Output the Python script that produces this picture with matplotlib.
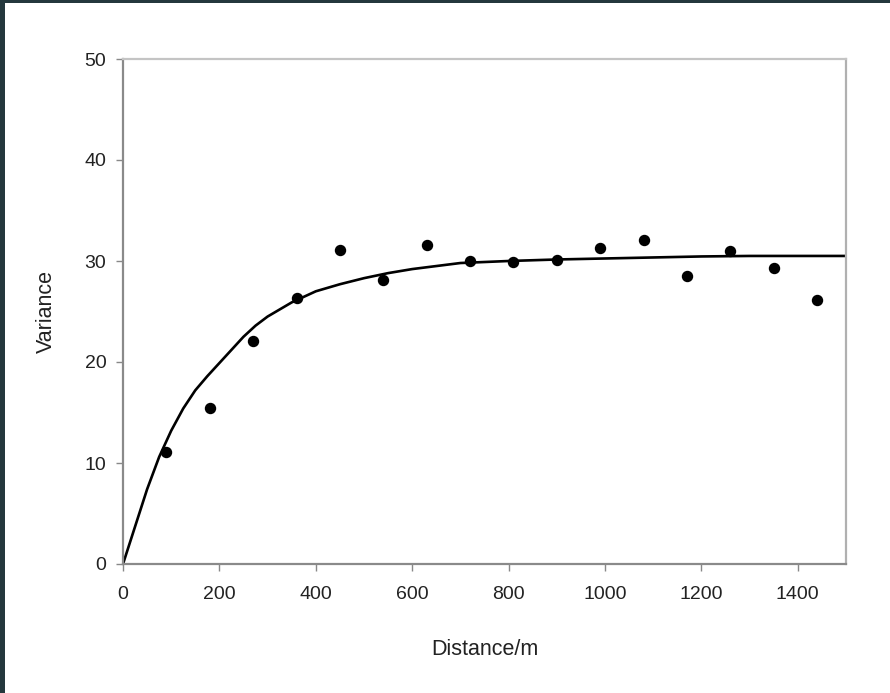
import matplotlib
matplotlib.use("Agg")
import matplotlib.pyplot as plt
from matplotlib.patches import Rectangle

# Observed semivariance points
dist_obs = [90, 180, 270, 360, 450, 540, 630, 720, 810, 900, 990, 1080, 1170, 1260, 1350, 1440]
var_obs = [11.1, 15.4, 22.1, 26.3, 31.1, 28.1, 31.6, 30.0, 29.9, 30.1, 31.3, 32.1, 28.5, 31.0, 29.3, 26.1]

# Fitted model curve
dist_fit = [0, 25, 50, 75, 100, 125, 150, 175, 200, 225, 250, 275, 300, 350, 400, 450, 500,
            550, 600, 650, 700, 800, 900, 1000, 1100, 1200, 1300, 1400, 1500]
var_fit = [0, 3.7, 7.4, 10.6, 13.2, 15.4, 17.2, 18.6, 19.9, 21.2, 22.5, 23.6, 24.5, 25.9, 27.0,
           27.7, 28.3, 28.8, 29.2, 29.5, 29.8, 30.0, 30.15, 30.25, 30.35, 30.45, 30.5, 30.5, 30.5]

x_ticks = [0, 200, 400, 600, 800, 1000, 1200, 1400]
y_ticks = [0, 10, 20, 30, 40, 50]

plt.rcParams['font.family'] = ['Liberation Sans', 'DejaVu Sans']

fig = plt.figure(figsize=(8.9, 6.93), dpi=100)
fig.patch.set_facecolor('white')
# dark frame strips (top and left)
frame_col = '#24383d'
fig.patches.append(Rectangle((0, 1 - 3/693), 1, 3/693, transform=fig.transFigure,
                             facecolor=frame_col, edgecolor='none', zorder=0))
fig.patches.append(Rectangle((0, 0), 5/890, 1, transform=fig.transFigure,
                             facecolor=frame_col, edgecolor='none', zorder=0))

ax = fig.add_axes([123/890, 1 - 564/693, (846 - 123)/890, (564 - 59)/693])
ax.plot(dist_fit, var_fit, color='black', lw=1.9, zorder=2,
        solid_capstyle='round', solid_joinstyle='round')
ax.plot(dist_obs, var_obs, 'o', color='black', markersize=7.2, zorder=3)

ax.set_xlim(0, 1500)
ax.set_ylim(0, 50)
ax.set_xticks(x_ticks)
ax.set_yticks(y_ticks)
ax.tick_params(axis='both', direction='out', length=5, width=1, color='#888888',
               labelsize=14, labelcolor='#222222')
ax.tick_params(axis='x', pad=11)
ax.tick_params(axis='y', pad=7)

ax.spines['left'].set_color('#8a8a8a')
ax.spines['bottom'].set_color('#8a8a8a')
ax.spines['top'].set_color('#c4c4c4')
ax.spines['right'].set_color('#b0b0b0')
for s in ax.spines.values():
    s.set_linewidth(1.6)

ax.set_xlabel('Distance/m', fontsize=15.5, color='#222222', labelpad=26)
ax.set_ylabel('Variance', fontsize=15.5, color='#222222', labelpad=20)

fig.savefig('out.png', dpi=100, facecolor=fig.get_facecolor())
